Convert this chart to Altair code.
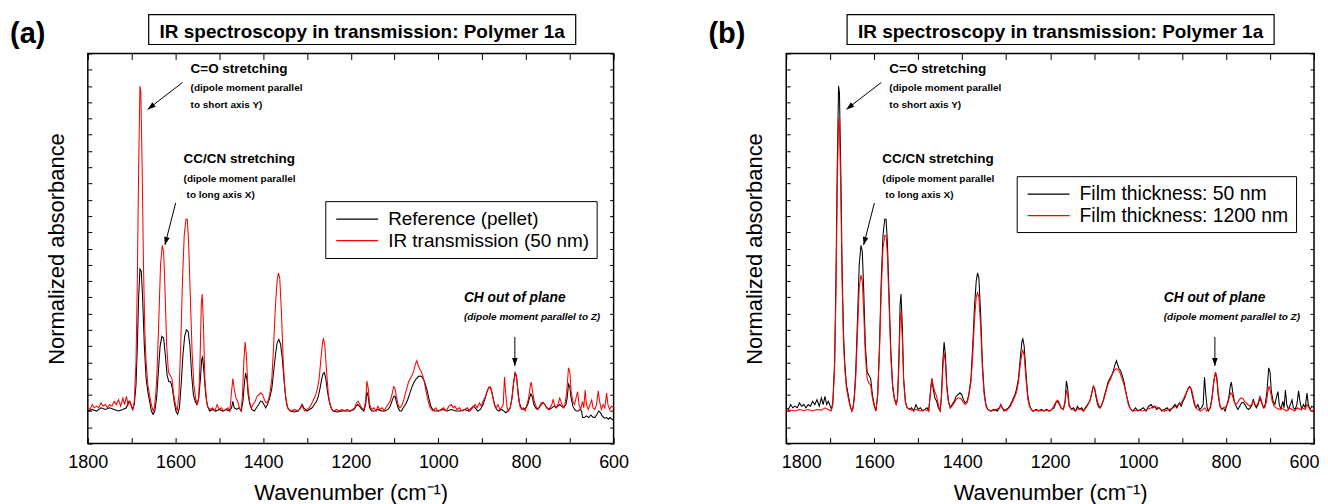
import altair as alt
import pandas as pd

# ---------------- data (wavenumber cm-1, normalized absorbance) ----------------
film_50nm = [
    (1800, 0.01), (1795, 0.005), (1790, 0.02), (1785, 0.01), (1780, 0.015), (1775, 0.01), (1770, 0.025),
    (1765, 0.015), (1760, 0.02), (1755, 0.01), (1750, 0.02), (1745, 0.015), (1740, 0.03), (1735, 0.02),
    (1730, 0.035), (1725, 0.015), (1720, 0.04), (1716, 0.02), (1712, 0.045), (1708, 0.02), (1704, 0.03),
    (1700, 0.015), (1697, 0.005), (1694, 0.03), (1690, 0.15), (1687, 0.4), (1684, 0.75), (1681, 1.0),
    (1679, 0.98), (1676, 0.75), (1673, 0.45), (1670, 0.25), (1667, 0.15), (1663, 0.08), (1659, 0.05),
    (1655, 0.02), (1651, 0.0), (1648, 0.01), (1645, 0.05), (1642, 0.12), (1638, 0.28), (1634, 0.45),
    (1630, 0.51), (1627, 0.49), (1624, 0.38), (1620, 0.2), (1616, 0.12), (1612, 0.11), (1608, 0.1),
    (1604, 0.05), (1600, 0.02), (1596, 0.0), (1592, 0.05), (1588, 0.2), (1584, 0.4), (1580, 0.54),
    (1576, 0.59), (1573, 0.59), (1570, 0.52), (1566, 0.35), (1562, 0.18), (1558, 0.08), (1554, 0.04),
    (1550, 0.02), (1547, 0.04), (1544, 0.15), (1541, 0.33), (1539, 0.36), (1536, 0.26), (1533, 0.1),
    (1529, 0.03), (1525, 0.01), (1520, 0.005), (1515, 0.01), (1510, 0.0), (1505, 0.02), (1500, 0.005),
    (1495, 0.01), (1490, 0.0), (1485, 0.005), (1480, 0.01), (1476, 0.0), (1472, 0.06), (1469, 0.1),
    (1466, 0.07), (1462, 0.04), (1458, 0.03), (1454, 0.01), (1450, 0.0), (1447, 0.05), (1444, 0.15),
    (1441, 0.212), (1438, 0.17), (1435, 0.08), (1431, 0.03), (1427, 0.01), (1423, 0.02), (1418, 0.03),
    (1414, 0.045), (1410, 0.05), (1405, 0.056), (1401, 0.05), (1397, 0.035), (1393, 0.025), (1389, 0.03),
    (1385, 0.05), (1380, 0.1), (1376, 0.2), (1372, 0.32), (1368, 0.4), (1365, 0.425), (1362, 0.41),
    (1358, 0.3), (1354, 0.15), (1350, 0.06), (1346, 0.02), (1342, 0.005), (1335, 0.0), (1328, 0.005),
    (1320, 0.0), (1315, 0.01), (1312, 0.02), (1309, 0.01), (1305, 0.0), (1300, 0.005), (1295, 0.01),
    (1290, 0.02), (1285, 0.035), (1280, 0.05), (1276, 0.07), (1272, 0.1), (1268, 0.16), (1264, 0.215),
    (1262, 0.222), (1259, 0.2), (1255, 0.12), (1251, 0.05), (1247, 0.02), (1243, 0.005), (1238, 0.0),
    (1232, 0.005), (1226, 0.0), (1220, 0.005), (1214, 0.0), (1208, 0.005), (1202, 0.0), (1196, 0.005),
    (1191, 0.01), (1187, 0.025), (1183, 0.03), (1179, 0.02), (1175, 0.01), (1170, 0.005), (1166, 0.03),
    (1163, 0.092), (1160, 0.07), (1157, 0.02), (1152, 0.005), (1147, 0.01), (1142, 0.0), (1138, 0.015),
    (1134, 0.005), (1128, 0.01), (1124, 0.0), (1120, 0.01), (1115, 0.02), (1110, 0.03), (1106, 0.05),
    (1102, 0.075), (1099, 0.07), (1096, 0.045), (1092, 0.02), (1088, 0.01), (1084, 0.015), (1080, 0.03),
    (1076, 0.05), (1072, 0.07), (1068, 0.09), (1064, 0.1), (1060, 0.11), (1056, 0.125), (1052, 0.145),
    (1049, 0.155), (1046, 0.14), (1043, 0.13), (1040, 0.125), (1036, 0.11), (1032, 0.09), (1028, 0.06),
    (1024, 0.035), (1020, 0.015), (1016, 0.005), (1012, 0.0), (1006, 0.01), (1000, 0.0), (994, 0.005),
    (988, 0.01), (982, 0.0), (976, 0.015), (970, 0.02), (966, 0.01), (962, 0.015), (958, 0.005),
    (952, 0.01), (946, 0.0), (940, 0.005), (934, 0.01), (928, 0.0), (922, 0.01), (916, 0.02), (912, 0.01),
    (906, 0.025), (902, 0.015), (898, 0.03), (894, 0.04), (890, 0.055), (886, 0.07), (883, 0.075),
    (880, 0.07), (876, 0.045), (872, 0.02), (868, 0.01), (864, 0.02), (860, 0.005), (856, 0.01),
    (852, 0.02), (849, 0.105), (846, 0.05), (843, 0.01), (840, 0.0), (836, 0.01), (832, 0.04), (828, 0.09),
    (824, 0.118), (821, 0.1), (818, 0.05), (814, 0.015), (810, 0.005), (806, 0.01), (802, 0.0), (798, 0.02),
    (794, 0.04), (790, 0.08), (788, 0.089), (785, 0.06), (781, 0.03), (777, 0.015), (773, 0.005),
    (769, 0.015), (765, 0.025), (761, 0.027), (757, 0.02), (753, 0.01), (749, 0.005), (745, 0.01),
    (741, 0.02), (738, 0.037), (735, 0.02), (731, 0.01), (727, 0.02), (723, 0.04), (719, 0.025),
    (715, 0.01), (711, 0.02), (707, 0.06), (703, 0.133), (700, 0.12), (697, 0.06), (693, 0.03),
    (689, 0.02), (685, 0.045), (682, 0.06), (679, 0.02), (675, 0.005), (671, 0.03), (668, 0.01),
    (665, 0.065), (662, 0.02), (658, 0.005), (654, 0.02), (650, 0.034), (647, 0.01), (643, 0.005),
    (639, 0.02), (635, 0.062), (632, 0.03), (628, 0.005), (624, 0.02), (620, 0.01), (616, 0.055),
    (613, 0.02), (609, 0.005), (605, 0.015), (600, 0.01),
]

pellet = [
    (1800, 0.0), (1790, 0.005), (1780, 0.0), (1770, 0.01), (1760, 0.005), (1750, 0.01), (1740, 0.005),
    (1730, 0.0), (1720, 0.005), (1712, 0.01), (1706, 0.03), (1702, 0.02), (1698, 0.005), (1694, 0.02),
    (1690, 0.08), (1687, 0.2), (1684, 0.35), (1681, 0.437), (1678, 0.43), (1675, 0.35), (1671, 0.2),
    (1667, 0.1), (1663, 0.06), (1659, 0.03), (1655, 0.0), (1651, -0.01), (1647, 0.0), (1643, 0.04),
    (1639, 0.12), (1635, 0.2), (1631, 0.23), (1627, 0.225), (1623, 0.17), (1619, 0.11), (1615, 0.09),
    (1611, 0.09), (1607, 0.07), (1603, 0.03), (1599, 0.0), (1595, -0.01), (1591, 0.01), (1587, 0.08),
    (1583, 0.17), (1579, 0.23), (1575, 0.25), (1571, 0.245), (1567, 0.2), (1563, 0.11), (1559, 0.05),
    (1555, 0.03), (1551, 0.02), (1547, 0.04), (1543, 0.1), (1540, 0.16), (1538, 0.166), (1535, 0.12),
    (1531, 0.05), (1527, 0.015), (1522, 0.0), (1515, 0.005), (1508, 0.0), (1500, 0.005), (1492, 0.0),
    (1484, 0.005), (1477, 0.0), (1472, 0.01), (1469, 0.03), (1466, 0.01), (1460, 0.005), (1455, 0.01),
    (1450, 0.0), (1446, 0.03), (1443, 0.08), (1440, 0.117), (1437, 0.1), (1434, 0.05), (1430, 0.02),
    (1426, 0.005), (1420, 0.0), (1415, 0.01), (1410, 0.02), (1406, 0.03), (1402, 0.03), (1398, 0.02),
    (1394, 0.01), (1390, 0.02), (1385, 0.04), (1380, 0.07), (1376, 0.12), (1372, 0.17), (1368, 0.21),
    (1364, 0.22), (1360, 0.205), (1356, 0.16), (1352, 0.09), (1348, 0.04), (1344, 0.01), (1338, 0.0),
    (1330, -0.003), (1320, 0.0), (1314, 0.01), (1311, 0.02), (1307, 0.01), (1300, 0.0), (1294, 0.005),
    (1288, 0.01), (1283, 0.02), (1278, 0.03), (1274, 0.045), (1270, 0.07), (1266, 0.1), (1263, 0.115),
    (1260, 0.118), (1257, 0.1), (1253, 0.06), (1249, 0.03), (1245, 0.01), (1240, 0.0), (1230, -0.003),
    (1220, 0.0), (1210, 0.0), (1200, 0.0), (1192, 0.005), (1188, 0.015), (1184, 0.02), (1180, 0.015),
    (1175, 0.005), (1170, 0.0), (1166, 0.02), (1163, 0.058), (1160, 0.045), (1157, 0.01), (1152, 0.0),
    (1145, 0.0), (1138, 0.005), (1130, 0.0), (1122, 0.0), (1115, 0.005), (1110, 0.015), (1106, 0.03),
    (1102, 0.045), (1099, 0.046), (1096, 0.03), (1092, 0.01), (1088, 0.0), (1084, 0.0), (1080, 0.01),
    (1075, 0.02), (1070, 0.035), (1065, 0.055), (1060, 0.075), (1055, 0.09), (1050, 0.1), (1045, 0.107),
    (1041, 0.108), (1037, 0.105), (1033, 0.095), (1029, 0.08), (1025, 0.06), (1021, 0.035), (1017, 0.015),
    (1013, 0.005), (1008, 0.0), (1000, 0.0), (990, 0.005), (980, 0.0), (970, 0.005), (960, 0.0),
    (950, 0.0), (940, 0.005), (930, 0.0), (924, 0.01), (920, 0.015), (916, 0.01), (910, 0.0), (904, 0.005),
    (898, 0.02), (893, 0.04), (889, 0.06), (885, 0.072), (882, 0.074), (879, 0.065), (875, 0.04),
    (871, 0.015), (867, 0.005), (862, 0.0), (856, 0.005), (850, 0.0), (846, -0.005), (842, 0.0),
    (836, 0.01), (832, 0.04), (828, 0.09), (825, 0.118), (822, 0.11), (819, 0.07), (815, 0.025),
    (811, 0.01), (806, 0.005), (800, 0.01), (796, 0.02), (792, 0.04), (789, 0.053), (786, 0.045),
    (782, 0.02), (778, 0.01), (774, 0.005), (770, 0.01), (765, 0.02), (761, 0.027), (757, 0.02),
    (752, 0.01), (746, 0.005), (741, 0.01), (736, 0.015), (731, 0.01), (727, 0.015), (723, 0.02),
    (719, 0.015), (714, 0.01), (709, 0.02), (706, 0.04), (703, 0.083), (700, 0.075), (697, 0.04),
    (693, 0.015), (689, 0.005), (685, 0.0), (681, 0.0), (677, 0.005), (673, 0.0), (671, -0.02),
    (667, -0.02), (662, -0.015), (657, -0.02), (652, -0.012), (648, -0.018), (643, -0.02), (638, -0.01),
    (634, 0.0), (630, -0.005), (626, -0.015), (621, -0.022), (616, -0.02), (612, -0.025), (608, -0.02),
    (604, -0.025), (600, -0.03),
]

film_1200nm = [
    (1800, 0.0), (1790, 0.003), (1780, 0.0), (1770, 0.005), (1760, 0.002), (1750, 0.005), (1740, 0.0),
    (1730, 0.005), (1720, 0.003), (1712, 0.01), (1705, 0.005), (1698, 0.0), (1694, 0.02), (1690, 0.13),
    (1687, 0.35), (1684, 0.68), (1681, 0.9), (1679, 0.88), (1676, 0.68), (1673, 0.4), (1670, 0.22),
    (1667, 0.13), (1663, 0.07), (1659, 0.04), (1655, 0.015), (1651, 0.0), (1648, 0.01), (1645, 0.04),
    (1642, 0.1), (1638, 0.24), (1634, 0.38), (1630, 0.418), (1627, 0.4), (1624, 0.31), (1620, 0.17),
    (1616, 0.1), (1612, 0.085), (1608, 0.08), (1604, 0.04), (1600, 0.015), (1596, 0.0), (1592, 0.05),
    (1588, 0.18), (1584, 0.37), (1580, 0.5), (1576, 0.54), (1573, 0.54), (1570, 0.48), (1566, 0.32),
    (1562, 0.16), (1558, 0.07), (1554, 0.035), (1550, 0.02), (1547, 0.035), (1544, 0.13), (1541, 0.28),
    (1539, 0.307), (1536, 0.22), (1533, 0.09), (1529, 0.025), (1525, 0.01), (1515, 0.003), (1505, 0.005),
    (1495, 0.0), (1485, 0.005), (1476, 0.0), (1472, 0.06), (1469, 0.1), (1466, 0.08), (1462, 0.06),
    (1458, 0.045), (1454, 0.02), (1450, 0.0), (1447, 0.04), (1444, 0.13), (1441, 0.18), (1438, 0.15),
    (1435, 0.07), (1431, 0.025), (1427, 0.01), (1423, 0.015), (1418, 0.025), (1414, 0.035), (1410, 0.04),
    (1405, 0.04), (1401, 0.035), (1397, 0.025), (1393, 0.02), (1389, 0.025), (1385, 0.045), (1380, 0.09),
    (1376, 0.17), (1372, 0.28), (1368, 0.35), (1365, 0.364), (1362, 0.35), (1358, 0.26), (1354, 0.13),
    (1350, 0.05), (1346, 0.015), (1342, 0.005), (1335, 0.0), (1325, 0.003), (1315, 0.01), (1312, 0.02),
    (1309, 0.01), (1300, 0.0), (1290, 0.015), (1285, 0.03), (1280, 0.045), (1276, 0.06), (1272, 0.09),
    (1268, 0.14), (1264, 0.18), (1262, 0.187), (1259, 0.17), (1255, 0.1), (1251, 0.04), (1247, 0.015),
    (1240, 0.0), (1230, 0.003), (1220, 0.0), (1210, 0.003), (1200, 0.0), (1194, 0.01), (1190, 0.02),
    (1186, 0.03), (1183, 0.034), (1179, 0.025), (1175, 0.01), (1170, 0.005), (1166, 0.025), (1163, 0.064),
    (1160, 0.05), (1157, 0.015), (1150, 0.005), (1142, 0.0), (1136, 0.01), (1130, 0.005), (1124, 0.0),
    (1118, 0.01), (1112, 0.025), (1108, 0.04), (1104, 0.065), (1101, 0.077), (1098, 0.065), (1094, 0.04),
    (1090, 0.02), (1086, 0.01), (1082, 0.02), (1078, 0.035), (1074, 0.055), (1070, 0.075), (1066, 0.09),
    (1062, 0.1), (1058, 0.115), (1054, 0.125), (1050, 0.13), (1046, 0.128), (1042, 0.12), (1038, 0.105),
    (1034, 0.09), (1030, 0.07), (1026, 0.045), (1022, 0.02), (1018, 0.008), (1012, 0.0), (1000, 0.003),
    (990, 0.0), (980, 0.005), (970, 0.01), (962, 0.015), (955, 0.01), (948, 0.005), (940, 0.0),
    (930, 0.005), (920, 0.01), (914, 0.015), (908, 0.02), (902, 0.025), (896, 0.04), (891, 0.055),
    (886, 0.07), (882, 0.074), (878, 0.065), (874, 0.04), (870, 0.015), (865, 0.005), (858, 0.0),
    (852, 0.005), (848, 0.01), (844, 0.0), (838, 0.005), (834, 0.02), (830, 0.06), (827, 0.1), (824, 0.12),
    (821, 0.105), (818, 0.06), (814, 0.02), (810, 0.005), (805, 0.01), (800, 0.015), (796, 0.025),
    (792, 0.045), (789, 0.056), (786, 0.05), (782, 0.03), (778, 0.02), (774, 0.025), (770, 0.035),
    (766, 0.04), (762, 0.04), (758, 0.03), (754, 0.025), (750, 0.02), (746, 0.015), (742, 0.02),
    (738, 0.03), (734, 0.02), (730, 0.015), (726, 0.03), (723, 0.045), (720, 0.035), (716, 0.015),
    (712, 0.01), (708, 0.03), (705, 0.06), (702, 0.077), (699, 0.06), (695, 0.03), (691, 0.015),
    (686, 0.01), (680, 0.005), (674, 0.01), (668, 0.005), (662, 0.0), (656, 0.01), (650, 0.005),
    (644, 0.0), (638, 0.01), (632, 0.005), (626, 0.01), (620, 0.005), (616, 0.02), (612, 0.01),
    (606, 0.0), (600, 0.005),
]

x_ticks = [1800, 1700, 1600, 1500, 1400, 1300, 1200, 1100, 1000, 900, 800, 700, 600]
y_ticks = [-0.1, -0.05, 0.0, 0.05, 0.1, 0.15, 0.2, 0.25, 0.3, 0.35, 0.4, 0.45, 0.5, 0.55, 0.6,
           0.65, 0.7, 0.75, 0.8, 0.85, 0.9, 0.95, 1.0, 1.05, 1.1]

title_text = "IR spectroscopy in transmission: Polymer 1a"

# annotation texts and their anchor (wavenumber, absorbance)
head_text = ["C=O stretching", "CC/CN stretching"]
head_wn = [1565.5, 1581.4]
head_val = [1.039, 0.762]
sub_text = ["(dipole moment parallel", "to short axis Y)", "(dipole moment parallel", " to long axis X)"]
sub_wn = [1565.5, 1565.5, 1581.4, 1574.6]
sub_val = [0.983, 0.931, 0.704, 0.655]
ch_text = ["CH out of plane"]
ch_wn = [941.6]
ch_val = [0.336]
chsub_text = ["(dipole moment parallel to Z)"]
chsub_wn = [941.6]
chsub_val = [0.2805]
arrow_from_wn = [1583.7, 1599.6, 825.4]
arrow_from_val = [1.011, 0.640, 0.228]
arrow_to_wn = [1663.4, 1624.0, 825.4]
arrow_to_val = [0.928, 0.511, 0.139]
arrow_angle = [232.4, 194.3, 180.0]

FONT = "Liberation Sans"
H = 391


def panel(tag, n1, pts1, n2, pts2, leg_x, leg_y, w, leg_font, flush):
    d1 = pd.DataFrame(pts1, columns=["wn", "val"])
    d1["series"] = n1
    d2 = pd.DataFrame(pts2, columns=["wn", "val"])
    d2["series"] = n2
    xs = alt.Scale(domain=[600, 1800], reverse=True, nice=False, zero=False)
    ys = alt.Scale(domain=[-0.1, 1.1], nice=False, zero=False)
    col = alt.Color(
        "series:N",
        scale=alt.Scale(domain=[n1, n2], range=["#000000", "#ff0000"]),
        legend=alt.Legend(
            title=None, orient="none", legendX=leg_x, legendY=leg_y,
            strokeColor="black", fillColor="white", padding=7,
            labelFont=FONT, labelFontSize=leg_font, labelColor="black", labelLimit=500,
            symbolType="M-1,0L3.2,0", symbolSize=400, symbolStrokeWidth=1.2,
            symbolOffset=3, labelOffset=31, rowPadding=0.6,
        ),
    )
    flush_opts = dict(labelFlush=True, labelFlushOffset=5) if flush else dict(labelFlush=False)
    xb = alt.Axis(orient="bottom", values=x_ticks, format="d",
                  labelExpr="datum.value % 200 == 0 ? datum.label : ''",
                  labelOverlap=False, **flush_opts,
                  tickSize=6, offset=-6, domain=False, grid=False,
                  labelFontSize=18, labelPadding=10, labelFont=FONT,
                  title="Wavenumber (cm⁻¹)", titleFontSize=22, titleFont=FONT,
                  titleFontWeight="normal", titlePadding=11)
    xt = alt.Axis(orient="top", values=x_ticks, labels=False, tickSize=6, offset=-6,
                  domain=False, grid=False, title=None)
    yl = alt.Axis(orient="left", values=y_ticks, labels=False, tickSize=4, offset=-4,
                  domain=False, grid=False, title="Normalized absorbance",
                  titleFontSize=22, titleFont=FONT, titleFontWeight="normal", titlePadding=19)
    yr = alt.Axis(orient="right", values=y_ticks, labels=False, tickSize=4, offset=-4,
                  domain=False, grid=False, title=None)

    l1 = alt.Chart(d1).mark_line(strokeWidth=1.05).encode(
        x=alt.X("wn:Q", scale=xs, axis=xb), y=alt.Y("val:Q", scale=ys, axis=yl), color=col)
    l2 = alt.Chart(d2).mark_line(strokeWidth=1.05).encode(
        x=alt.X("wn:Q", scale=xs, axis=xt), y=alt.Y("val:Q", scale=ys, axis=yr), color=col)

    def txt(texts, wns, vals, size, italic=False):
        df = pd.DataFrame({"t": texts, "wn": wns, "val": vals})
        return alt.Chart(df).mark_text(
            font=FONT, fontSize=size, fontWeight="bold",
            fontStyle="italic" if italic else "normal",
            align="left", baseline="alphabetic", color="black",
        ).encode(x=alt.X("wn:Q", scale=xs, axis=None),
                 y=alt.Y("val:Q", scale=ys, axis=None), text="t:N")

    arr = pd.DataFrame({"wn": arrow_from_wn, "val": arrow_from_val,
                        "wn2": arrow_to_wn, "val2": arrow_to_val, "ang": arrow_angle})
    rules = alt.Chart(arr).mark_rule(color="black", strokeWidth=1).encode(
        x=alt.X("wn:Q", scale=xs, axis=None), y=alt.Y("val:Q", scale=ys, axis=None),
        x2="wn2:Q", y2="val2:Q")
    heads = alt.Chart(arr).mark_point(shape="M0,0L-0.7,2L0.7,2Z", filled=True, color="black",
                                      opacity=1, size=64).encode(
        x=alt.X("wn2:Q", scale=xs, axis=None), y=alt.Y("val2:Q", scale=ys, axis=None),
        angle=alt.Angle("ang:Q", scale=None))

    one = pd.DataFrame({"k": [0]})
    box = alt.Chart(one).mark_rect(fill="white", stroke="black", strokeWidth=1.2).encode(
        x=alt.value(61), x2=alt.value(489), y=alt.value(-39), y2=alt.value(-9))
    ttl = alt.Chart(one).mark_text(text=title_text, font=FONT, fontSize=19, fontWeight="bold",
                                   align="center", baseline="alphabetic", color="black").encode(
        x=alt.value(275), y=alt.value(-16))
    lab = alt.Chart(one).mark_text(text=tag, font=FONT, fontSize=29, fontWeight="bold",
                                   align="left", baseline="alphabetic", color="black").encode(
        x=alt.value(-78), y=alt.value(-10))

    return alt.layer(
        l1, l2,
        txt(head_text, head_wn, head_val, 13.5),
        txt(sub_text, sub_wn, sub_val, 10),
        txt(ch_text, ch_wn, ch_val, 13.8, italic=True),
        txt(chsub_text, chsub_wn, chsub_val, 10, italic=True),
        rules, heads, box, ttl, lab,
    ).resolve_axis(x="independent", y="independent").properties(width=w, height=H)


pa = panel("(a)", "Reference (pellet)", pellet, "IR transmission (50 nm)", film_50nm,
           238, 148, 527, 19, False)
pb = panel("(b)", "Film thickness: 50 nm", film_50nm, "Film thickness: 1200 nm", film_1200nm,
           231, 123, 529, 19.4, True)

chart = alt.hconcat(pa, pb, spacing=78).resolve_scale(
    x="independent", y="independent", color="independent"
).properties(
    padding={"left": 1, "top": 4, "right": 0, "bottom": 0}
).configure_view(stroke="black", strokeWidth=1.5).configure_axis(
    tickColor="black", labelColor="black", titleColor="black", tickWidth=1
)

chart.save("out.html", embed_options={"renderer": "svg", "actions": False})
